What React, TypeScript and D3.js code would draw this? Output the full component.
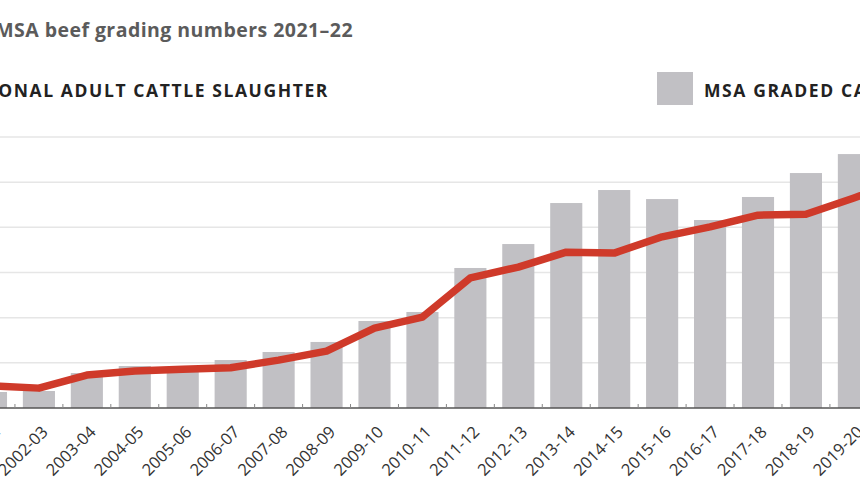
import React from "react";
import * as d3 from "d3";

// chart values (bars = head graded, line = % of slaughter)
const seasons = [
  "2001-02", "2002-03", "2003-04", "2004-05", "2005-06", "2006-07", "2007-08",
  "2008-09", "2009-10", "2010-11", "2011-12", "2012-13", "2013-14", "2014-15",
  "2015-16", "2016-17", "2017-18", "2018-19", "2019-20", "2020-21",
];
const gradedCattle = [
  177000, 188000, 387000, 465000, 454000, 531000, 620000, 731000, 963000, 1063000,
  1550000, 1815000, 2269000, 2413000, 2313000, 2081000, 2336000, 2601000, 2811000, 2950000,
];
const shareOfSlaughter = [
  4.9, 4.4, 7.3, 8.2, 8.6, 8.9, 10.6, 12.6, 17.7, 20.1,
  28.8, 31.2, 34.5, 34.3, 37.9, 40.1, 42.7, 42.9, 46.5, 50.2,
];
const gridTicks = [500000, 1000000, 1500000, 2000000, 2500000, 3000000];

const title = "MSA beef grading numbers 2021–22";
const lineLegend = "% OF NATIONAL ADULT CATTLE SLAUGHTER";
const barLegend = "MSA GRADED CATTLE";

export default function App() {
  const width = 860;
  const height = 500;
  const baseY = 408;
  const topY = 137;

  const step = 47.94;
  const x = d3.scaleBand()
    .domain(seasons)
    .range([-33, -33 + step * seasons.length])
    .paddingInner(0.33)
    .paddingOuter(0.165);

  const yBars = d3.scaleLinear().domain([0, 3000000]).range([baseY, topY]);
  const yLine = d3.scaleLinear().domain([0, 60]).range([baseY, topY]);

  const center = (s) => x(s) + x.bandwidth() / 2;
  const gap = x.step() - x.bandwidth();

  const linePath = d3.line()
    .x((d, i) => center(seasons[i]))
    .y((d) => yLine(d))(shareOfSlaughter);

  const font = "'Open Sans', sans-serif";

  return (
    <svg
      width={width}
      height={height}
      style={{ position: "absolute", left: 0, top: 0, background: "#fff", overflow: "hidden" }}
    >
      <text x={353} y={37} textAnchor="end" fontFamily={font} fontWeight={700} fontSize={19.5} letterSpacing={0.45} fill="#5b5b5b">
        {title}
      </text>

      {/* legend */}
      <text x={329} y={97} textAnchor="end" fontFamily={font} fontWeight={700} fontSize={17.5} letterSpacing={1.6} fill="#222">
        {lineLegend}
      </text>
      <rect x={657} y={72} width={36} height={33} fill="#c1c0c4" />
      <text x={704} y={97} fontFamily={font} fontWeight={700} fontSize={17.5} letterSpacing={1.6} fill="#222">
        {barLegend}
      </text>

      {/* gridlines */}
      {gridTicks.map((t) => (
        <line key={t} x1={-50} x2={width + 50} y1={yBars(t)} y2={yBars(t)} stroke="#e6e6e6" strokeWidth={1.5} />
      ))}

      {seasons.map((s, i) => (
        <rect
          key={s}
          x={x(s)}
          y={yBars(gradedCattle[i])}
          width={x.bandwidth()}
          height={baseY - yBars(gradedCattle[i])}
          fill="#c1c0c4"
        />
      ))}

      <path d={linePath} fill="none" stroke="#cf3a2a" strokeWidth={7.5} strokeLinejoin="round" />

      {/* x axis */}
      <line x1={-50} x2={width + 50} y1={baseY} y2={baseY} stroke="#555" strokeWidth={1.5} />
      {seasons.map((s) => (
        <line key={s} x1={x(s) - gap / 2} x2={x(s) - gap / 2} y1={baseY} y2={baseY - 4} stroke="#888" strokeWidth={1} />
      ))}
      {seasons.map((s) => (
        <text
          key={s}
          transform={`translate(${center(s) + 10}, 433) rotate(-45)`}
          textAnchor="end"
          fontFamily={font}
          fontSize={16.5}
          fill="#333"
        >
          {s}
        </text>
      ))}
    </svg>
  );
}
